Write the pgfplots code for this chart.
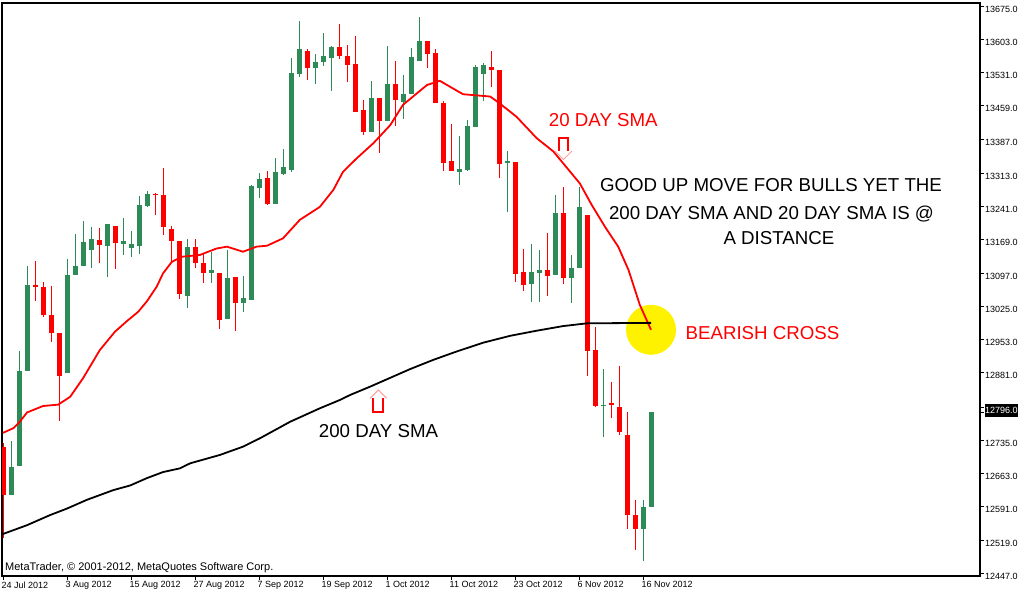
\documentclass[border=0pt]{standalone}
\usepackage{fontspec}
\setmainfont{Liberation Sans}
\usepackage{pgfplots}
\usepackage{pgfplotstable}
\pgfplotsset{compat=1.18}
\definecolor{cgreen}{HTML}{2E8B57}
\definecolor{cred}{HTML}{FF0000}
\definecolor{cpink}{HTML}{FF9F9F}

% daily bars, index 0 = 24 Jul 2012
\pgfplotstableread{
i O H L C
1 12616 12733 12616 12678
2 12680 12928 12680 12885
3 12885 13112 12885 13071
8 12881 13127 12881 13093
9 13093 13181 13093 13112
10 13112 13210 13112 13164
11 13147 13197 13108 13171
13 13155 13203 13089 13203
15 13160 13216 13136 13166
16 13152 13188 13132 13160
17 13156 13264 13138 13244
18 13243 13275 13239 13268
23 13047 13171 13022 13153
26 13098 13142 13076 13103
28 12998 13147 12998 13087
30 13031 13091 13013 13043
31 13039 13288 13039 13285
32 13282 13314 13260 13301
34 13247 13346 13247 13316
35 13311 13365 13309 13326
36 13320 13562 13316 13530
37 13528 13643 13522 13582
39 13541 13571 13507 13554
40 13554 13617 13546 13567
41 13563 13588 13492 13586
46 13403 13513 13403 13476
48 13427 13588 13427 13506
50 13468 13526 13431 13485
51 13485 13584 13485 13565
52 13556 13651 13556 13599
57 13316 13394 13288 13322
58 13321 13428 13318 13415
59 13414 13547 13414 13543
60 13528 13552 13470 13547
63 13336 13361 13228 13339
66 13074 13159 13035 13099
67 13098 13147 13035 13103
69 13093 13266 13093 13227
71 13087 13136 13033 13108
72 13108 13283 13108 13240
75 12808 12890 12743 12811
80 12543 12606 12474 12590
81 12590 12796 12590 12796
}\greencandles

\pgfplotstableread{
i O H L C
0 12721 12730 12523 12616
4 13071 13124 13037 13067
5 13067 13077 13002 13005
6 13005 13069 12948 12966
7 12967 12967 12777 12875
12 13168 13194 13119 13158
14 13199 13199 13106 13162
19 13268 13271 13223 13265
20 13266 13324 13179 13197
21 13192 13199 13121 13167
22 13166 13166 13041 13052
24 13153 13171 13108 13119
25 13119 13140 13076 13098
27 13097 13097 12975 12996
29 13088 13088 12972 13031
33 13303 13318 13245 13247
38 13578 13582 13515 13541
42 13586 13636 13561 13567
43 13567 13591 13511 13548
44 13549 13610 13446 13446
45 13450 13472 13396 13403
47 13476 13476 13357 13427
49 13506 13556 13416 13472
53 13599 13599 13541 13572
54 13573 13582 13464 13464
55 13465 13469 13318 13336
56 13339 13420 13318 13318
61 13543 13578 13500 13537
62 13536 13536 13303 13334
64 13337 13337 13078 13095
65 13099 13150 13059 13072
68 13103 13184 13048 13091
70 13227 13283 13074 13087
73 13222 13222 12875 12929
74 12931 12979 12807 12809
76 12816 12860 12782 12811
77 12807 12896 12747 12753
78 12747 12797 12543 12572
79 12572 12606 12498 12543
}\redcandles

\begin{document}
\begin{tikzpicture}
\path[use as bounding box] (-2bp,-16bp) rectangle (1016bp,576bp);
\begin{axis}[
  at={(0,0)}, anchor=south west,
  scale only axis, width=978bp, height=573bp,
  xmin=-0.125, xmax=122.125, ymin=12441, ymax=13681.5,
  axis line style={line width=1.2bp},
  tick align=outside, major tick length=4bp,
  tick style={black, line width=0.8bp},
  xtick pos=left, ytick pos=right, yticklabel pos=right,
  xtick={0,8,...,80},
  xticklabels={24 Jul 2012,3 Aug 2012,15 Aug 2012,27 Aug 2012,7 Sep 2012,19 Sep 2012,1 Oct 2012,11 Oct 2012,23 Oct 2012,6 Nov 2012,16 Nov 2012},
  ytick={13675,13603,13531,13459,13387,13313,13241,13169,13097,13025,12953,12881,12807,12735,12663,12591,12519,12447},
  yticklabels={13675.0,13603.0,13531.0,13459.0,13387.0,13313.0,13241.0,13169.0,13097.0,13025.0,12953.0,12881.0,12807.0,12735.0,12663.0,12591.0,12519.0,12447.0},
  ticklabel style={font=\fontsize{9bp}{10bp}\selectfont},
  xticklabel style={anchor=north west, inner sep=0pt, xshift=-1.5bp, yshift=-1.5bp},
  yticklabel style={anchor=west, inner sep=0pt, xshift=1bp, yshift=-3bp},
  extra y ticks={12796}, extra y tick labels={12796.0},
  extra y tick style={tick label style={fill=black, text=white, inner xsep=1bp, inner ysep=0pt, minimum height=13bp, yshift=4.5bp}},
]
% bearish cross highlight
\fill[yellow] (axis cs:81,12974) circle[radius=25bp];

% wicks
\addplot[draw=none, mark=none, forget plot, error bars/.cd, y dir=plus, y explicit, error mark=none,
  error bar style={draw=cgreen, line width=1bp}]
  table[x=i, y=L, y error plus expr=\thisrow{H}-\thisrow{L}] {\greencandles};
\addplot[draw=none, mark=none, forget plot, error bars/.cd, y dir=plus, y explicit, error mark=none,
  error bar style={draw=cred, line width=1bp}]
  table[x=i, y=L, y error plus expr=\thisrow{H}-\thisrow{L}] {\redcandles};
% bodies
\addplot[draw=none, mark=none, forget plot, error bars/.cd, y dir=plus, y explicit, error mark=none,
  error bar style={draw=cgreen, line width=5bp}]
  table[x=i, y=O, y error plus expr=\thisrow{C}-\thisrow{O}] {\greencandles};
\addplot[draw=none, mark=none, forget plot, error bars/.cd, y dir=plus, y explicit, error mark=none,
  error bar style={draw=cred, line width=5bp}]
  table[x=i, y=C, y error plus expr=\thisrow{O}-\thisrow{C}] {\redcandles};

% 20 day SMA
\addplot[cred, line width=1.8bp, mark=none] coordinates {
(0,12751) (1.3,12761) (2.1,12775) (3,12795) (5,12809) (6.9,12812) (8.4,12829)
(10,12869) (12.1,12930) (14,12970) (15.5,12993) (16.9,13013) (18,13036)
(19.2,13067) (20,13096) (21.1,13121) (22.3,13132) (24.6,13136) (26.7,13150)
(28,13154) (30,13143) (31.7,13154) (33,13156) (35,13172) (37.1,13212)
(39.6,13240) (41.3,13277) (42.5,13316) (44.2,13345) (46.3,13378) (48.4,13417)
(50,13461) (53,13504) (54.6,13513) (57.5,13484) (60.9,13479) (62.1,13464)
(64.2,13435) (66.7,13389) (68.8,13360) (72.1,13291) (73.6,13244) (75.25,13197)
(76.9,13154) (78.2,13103) (79.6,13028) (81,12974)
};
% 200 day SMA
\addplot[black, line width=1.8bp, mark=none] coordinates {
(0,12532) (3,12551) (5.9,12573) (8,12587) (10.5,12606) (13.8,12627) (15.9,12637)
(18,12653) (20,12666) (22.1,12674) (23.4,12685) (27.1,12703) (30,12721)
(32.1,12739) (35.9,12775) (39.6,12804) (42.1,12822) (43.4,12833) (45.9,12851)
(48.4,12870) (50.9,12889) (53.8,12909) (56.7,12927) (60,12946) (63.4,12961)
(66.7,12972) (70,12982) (73,12988) (81,12989)
};
\end{axis}

% annotations (bp, origin at lower left of plot frame)
\begin{scope}[font=\fontsize{18.7bp}{22bp}\selectfont]
\node[cred, anchor=base, inner sep=0pt] at (601.3bp,449.3bp) {20 DAY SMA};
\node[anchor=base, inner sep=0pt] at (769bp,384.3bp) {GOOD UP MOVE FOR BULLS YET THE};
\node[anchor=base, inner sep=0pt] at (769.5bp,356.6bp) {200 DAY SMA AND 20 DAY SMA IS @};
\node[anchor=base, inner sep=0pt] at (777bp,331bp) {A DISTANCE};
\node[anchor=base, inner sep=0pt] at (376.5bp,138.7bp) {200 DAY SMA};
\node[cred, anchor=base, inner sep=0pt] at (760.5bp,236bp) {BEARISH CROSS};
\end{scope}
% arrows
\draw[cred, line width=2.5bp] (557bp,425bp) -- (557bp,438bp) -- (566bp,438bp) -- (566bp,425bp);
\draw[cpink, line width=1bp] (553bp,425bp) -- (561.5bp,416.5bp) -- (570bp,425bp);
\draw[cred, line width=2.5bp] (371bp,177.7bp) -- (371bp,164bp) -- (381bp,164bp) -- (381bp,177.7bp);
\draw[cpink, line width=1bp] (368bp,177.7bp) -- (376.3bp,186bp) -- (384.7bp,177.7bp);

\node[anchor=base west, inner sep=0pt, font=\fontsize{11bp}{12bp}\selectfont] at (3bp,5.3bp)
  {MetaTrader, © 2001-2012, MetaQuotes Software Corp.};
\end{tikzpicture}
\end{document}
